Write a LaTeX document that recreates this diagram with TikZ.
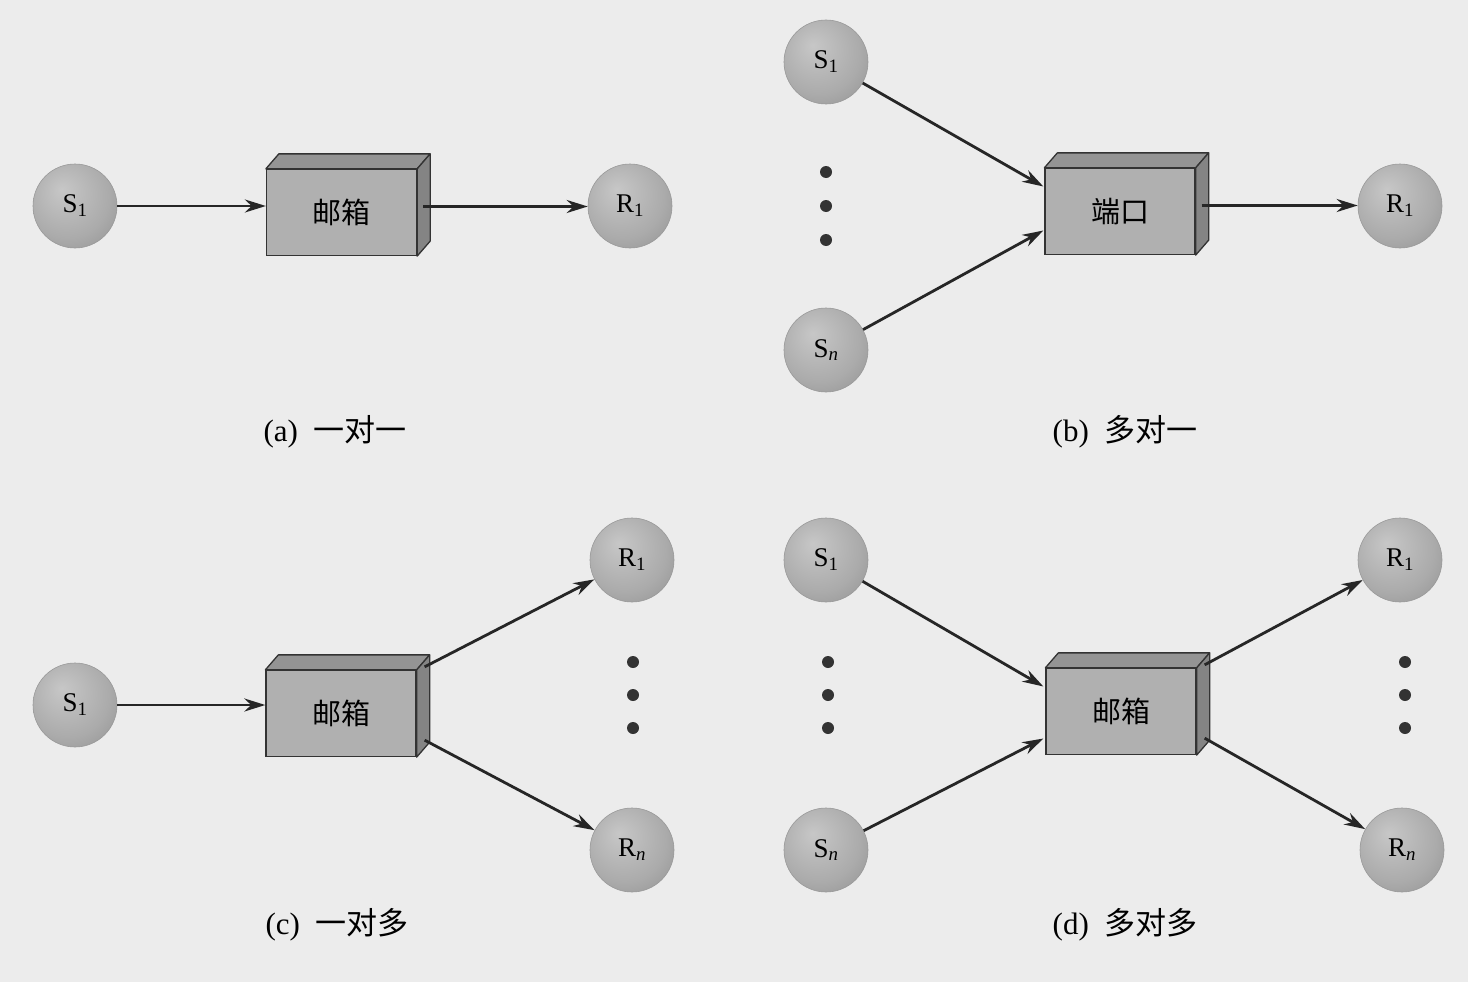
\documentclass[tikz,border=0pt]{standalone}
\usepackage{fontspec}
\setmainfont{Liberation Serif}
\newfontfamily\cjk{Noto Sans CJK SC}
\usetikzlibrary{arrows.meta,calc}
\definecolor{bgc}{RGB}{236,236,236}
\definecolor{boxfront}{RGB}{176,176,176}
\definecolor{boxtop}{RGB}{148,148,148}
\definecolor{boxside}{RGB}{132,132,132}
\pgfdeclareradialshading{sball}{\pgfpoint{-8bp}{10bp}}{color(0bp)=(black!22); color(25bp)=(black!33); color(45bp)=(black!46); color(60bp)=(black!58)}
\tikzset{
  ball/.style={circle,minimum size=84pt,inner sep=0pt,draw=black!40,line width=0.6pt,
    shading=sball,font=\fontsize{27}{27}\selectfont},
  mbox/.style={rectangle,minimum width=150pt,minimum height=86pt,inner sep=0pt,
    fill=boxfront,draw=black!80,line width=1.3pt,font=\cjk\fontsize{29}{29}\selectfont},
  face/.style={draw=black!80,line width=1.3pt,line join=round},
  conn/.style={draw=black!85,line width=2.8pt,-{Stealth[length=21pt,width=13pt]}},
  dotn/.style={circle,fill=black!80,minimum size=12pt,inner sep=0pt},
  captext/.style={font=\fontsize{31}{31}\selectfont}
}
\newcommand{\boxfaces}[1]{%
  \filldraw[face,fill=boxtop] (#1.north west) -- ++(13,-15) -- ($(#1.north east)+(13,-15)$) -- (#1.north east) -- cycle;
  \filldraw[face,fill=boxside] (#1.north east) -- ++(13,-15) -- ($(#1.south east)+(13,-15)$) -- (#1.south east) -- cycle;
}
\begin{document}
\begin{tikzpicture}[x=1pt,y=-1pt]
\fill[bgc] (0,0) rectangle (1468,982);
\useasboundingbox (0,0) rectangle (1468,982);

% (a)
\node[ball] (as1) at (75,206) {S\textsubscript{1}};
\node[mbox] (abox) at (341.5,212.5) {邮箱};
\boxfaces{abox}
\node[ball] (ar1) at (630,206) {R\textsubscript{1}};
\coordinate (aout) at ($(abox.east)+(6,-6)$);
\draw[conn] (as1.east) -- (abox.west |- as1.east);
\draw[conn] (aout) -- (ar1.west |- aout);
\node[captext] (acap) at (335,432) {(a)\,\,\,{\cjk 一对一}};

% (b)
\node[ball] (bs1) at (826,62) {S\textsubscript{1}};
\node[ball] (bsn) at (826,350) {S\textsubscript{\textit{n}}};
\node[dotn] (bd1) at (826,172) {};
\node[dotn] (bd2) at (826,206) {};
\node[dotn] (bd3) at (826,240) {};
\node[mbox] (bbox) at (1120,211.5) {端口};
\boxfaces{bbox}
\node[ball] (br1) at (1400,206) {R\textsubscript{1}};
\coordinate (bin1) at ($(bbox.west)+(-1,-25)$);
\coordinate (bin2) at ($(bbox.west)+(-1,19)$);
\coordinate (bout) at ($(bbox.east)+(6,-6)$);
\draw[conn] (bs1) -- (bin1);
\draw[conn] (bsn) -- (bin2);
\draw[conn] (bout) -- (br1.west |- bout);
\node[captext] (bcap) at (1125,432) {(b)\,\,\,{\cjk 多对一}};

% (c)
\node[ball] (cs1) at (75,705) {S\textsubscript{1}};
\node[mbox] (cbox) at (341,713.5) {邮箱};
\boxfaces{cbox}
\node[ball] (cr1) at (632,560) {R\textsubscript{1}};
\node[ball] (crn) at (632,850) {R\textsubscript{\textit{n}}};
\node[dotn] (cd1) at (633,662) {};
\node[dotn] (cd2) at (633,695) {};
\node[dotn] (cd3) at (633,728) {};
\coordinate (cout1) at ($(cbox.north east)+(8,-3)$);
\coordinate (cout2) at ($(cbox.south east)+(8,-17)$);
\draw[conn] (cs1.east) -- (cbox.west |- cs1.east);
\draw[conn] (cout1) -- (cr1);
\draw[conn] (cout2) -- (crn);
\node[captext] (ccap) at (337,925) {(c)\,\,\,{\cjk 一对多}};

% (d)
\node[ball] (ds1) at (826,560) {S\textsubscript{1}};
\node[ball] (dsn) at (826,850) {S\textsubscript{\textit{n}}};
\node[dotn] (dd1) at (828,662) {};
\node[dotn] (dd2) at (828,695) {};
\node[dotn] (dd3) at (828,728) {};
\node[mbox] (dbox) at (1121,711.5) {邮箱};
\boxfaces{dbox}
\node[ball] (dr1) at (1400,560) {R\textsubscript{1}};
\node[ball] (drn) at (1402,850) {R\textsubscript{\textit{n}}};
\node[dotn] (de1) at (1405,662) {};
\node[dotn] (de2) at (1405,695) {};
\node[dotn] (de3) at (1405,728) {};
\coordinate (din1) at ($(dbox.west)+(-2,-25)$);
\coordinate (din2) at ($(dbox.west)+(-2,27)$);
\coordinate (dout1) at ($(dbox.north east)+(8,-3)$);
\coordinate (dout2) at ($(dbox.south east)+(8,-17)$);
\draw[conn] (ds1) -- (din1);
\draw[conn] (dsn) -- (din2);
\draw[conn] (dout1) -- (dr1);
\draw[conn] (dout2) -- (drn);
\node[captext] (dcap) at (1125,925) {(d)\,\,\,{\cjk 多对多}};
\end{tikzpicture}
\end{document}
